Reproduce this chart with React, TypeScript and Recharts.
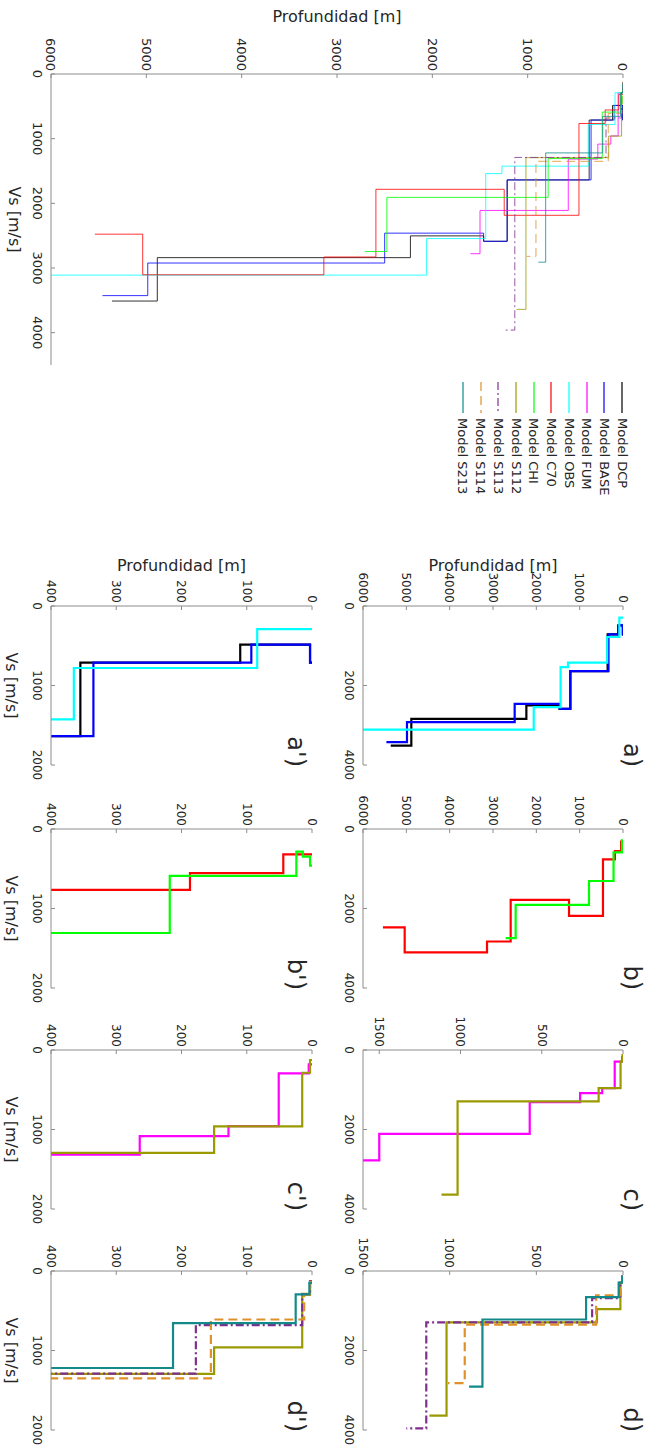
import { LineChart, Line, XAxis, YAxis } from 'recharts'

// legend order
const models = ['DCP', 'BASE', 'FUM', 'OBS', 'C70', 'CHI', 'S112', 'S113', 'S114', 'S213']
const colors = ['#000000', '#0000ff', '#ff00ff', '#00ffff', '#ff0000', '#00ff00', '#9a9a00', '#7e2f8e', '#e0902a', '#128a8a']
const dashes = ['', '', '', '', '', '', '', '8 3 2 3', '9 5', '']

// Vs of each layer [m/s]; depth = layer boundaries [m], last value is where the curve stops
const dcpVs = [712, 486, 712, 1638, 2587, 2503, 2840, 3511]
const dcpDepth = [0, 3, 110, 355, 1215, 1462, 2230, 4885, 5360]
const baseVs = [712, 486, 712, 1638, 2587, 2461, 2923, 3427]
const baseDepth = [0, 3, 93, 335, 1215, 1462, 2500, 4985, 5460]
const fumVs = [180, 294, 958, 1084, 1315, 2110, 2779]
const fumDepth = [0, 5, 51, 128, 264, 574, 1500, 1600]
const obsVs = [290, 780, 1425, 1540, 2545, 3110]
const obsDepth = [0, 84, 365, 1270, 1440, 2060, 6400]
const c70Vs = [318, 556, 765, 2185, 1783, 2830, 3105, 2477]
const c70Depth = [0, 44, 187, 462, 1246, 2592, 3138, 5038, 5540]
const chiVs = [460, 347, 284, 589, 1308, 1908, 2745]
const chiDepth = [0, 3, 14, 24, 218, 785, 2477, 2708]
const s112Vs = [126, 286, 960, 1294, 3640]
const s112Depth = [0, 3, 15, 150, 1018, 1117]
const s113Vs = [130, 290, 680, 1290, 3960]
const s113Depth = [0, 3, 15, 178, 1135, 1250]
const s114Vs = [140, 300, 610, 1350, 2820]
const s114Depth = [0, 3, 12, 155, 913, 1010]
const s213Vs = [150, 294, 655, 1220, 2910]
const s213Depth = [0, 4, 25, 213, 811, 888]

// tick labels
const mainVsTicks = [0, 1000, 2000, 3000, 4000]
const panelVsTicks = [0, 2000, 4000]
const zoomVsTicks = [0, 1000, 2000]
const deepTicks = [0, 1000, 2000, 3000, 4000, 5000, 6000]
const midTicks = [0, 500, 1000, 1500]
const shallowTicks = [0, 100, 200, 300, 400]

const profiles: Record<string, { vs: number[]; depth: number[] }> = {
  DCP: { vs: dcpVs, depth: dcpDepth },
  BASE: { vs: baseVs, depth: baseDepth },
  FUM: { vs: fumVs, depth: fumDepth },
  OBS: { vs: obsVs, depth: obsDepth },
  C70: { vs: c70Vs, depth: c70Depth },
  CHI: { vs: chiVs, depth: chiDepth },
  S112: { vs: s112Vs, depth: s112Depth },
  S113: { vs: s113Vs, depth: s113Depth },
  S114: { vs: s114Vs, depth: s114Depth },
  S213: { vs: s213Vs, depth: s213Depth },
}

// staircase: each layer is a constant-Vs segment from its top to its bottom
const steps = (name: string) => {
  const { vs, depth } = profiles[name]
  const pts: { vs: number; depth: number }[] = []
  vs.forEach((v, i) => {
    pts.push({ vs: v, depth: depth[i] })
    pts.push({ vs: v, depth: depth[i + 1] })
  })
  return pts
}

const FONT = '"DejaVu Sans", sans-serif'
const TEXT = '#262626'
const AXIS = '#8c8c8c'
const PAD_L = 74, PAD_T = 10, PAD_R = 30, PAD_B = 50

interface PanelProps {
  x: number; y: number; w: number; h: number
  vsMax: number; depthMax: number
  vsTicks: number[]; depthTicks: number[]
  names: string[]
  thick?: boolean
  fontSize?: number
  xLabelOffset?: number
  yLabelOffset?: number
}

const Panel = ({ x, y, w, h, vsMax, depthMax, vsTicks, depthTicks, names, thick, fontSize = 12, xLabelOffset, yLabelOffset }: PanelProps) => (
  <div style={{ position: 'absolute', left: x - PAD_L, top: y - PAD_T }}>
    <LineChart
      width={w + PAD_L + PAD_R}
      height={h + PAD_T + PAD_B}
      margin={{ top: PAD_T, right: PAD_R, bottom: 0, left: 0 }}
    >
      <XAxis
        type="number"
        dataKey="vs"
        domain={[0, vsMax]}
        ticks={vsTicks}
        interval={0}
        allowDataOverflow
        height={PAD_B}
        stroke={AXIS}
        tickSize={-4}
        tickMargin={13}
        tick={{ fontSize, fill: TEXT }}
        label={xLabelOffset !== undefined
          ? { value: 'Vs [m/s]', position: 'insideBottom', offset: xLabelOffset, style: { fontSize: 16, fill: TEXT } }
          : undefined}
      />
      <YAxis
        type="number"
        domain={[0, depthMax]}
        ticks={depthTicks}
        interval={0}
        reversed
        allowDataOverflow
        width={PAD_L}
        stroke={AXIS}
        tickSize={-4}
        tickMargin={7}
        tick={{ fontSize, fill: TEXT }}
        label={yLabelOffset !== undefined
          ? { value: 'Profundidad [m]', angle: -90, position: 'insideLeft', offset: yLabelOffset, style: { textAnchor: 'middle', fontSize: 16, fill: TEXT } }
          : undefined}
      />
      {names.map(n => {
        const i = models.indexOf(n)
        return (
          <Line
            key={n}
            data={steps(n)}
            dataKey="depth"
            type="linear"
            stroke={colors[i]}
            strokeWidth={thick ? 2.2 : 1}
            strokeOpacity={thick ? 1 : 0.8}
            strokeDasharray={dashes[i] || undefined}
            dot={false}
            isAnimationActive={false}
          />
        )
      })}
    </LineChart>
  </div>
)

const Tag = ({ right, top, text }: { right: number; top: number; text: string }) => (
  <div style={{
    position: 'absolute', left: right - 60, top, width: 60, textAlign: 'right',
    fontSize: 24, lineHeight: '24px', color: TEXT,
  }}>{text}</div>
)

const Legend = () => (
  <div style={{ position: 'absolute', left: 382, top: 24 }}>
    {models.map((m, i) => (
      <div key={m} style={{ display: 'flex', alignItems: 'center', height: 17.7, fontSize: 13, color: TEXT }}>
        <svg width={31} height={4} style={{ marginRight: 5 }}>
          <line x1={0} y1={2} x2={31} y2={2} stroke={colors[i]} strokeWidth={1.2} strokeDasharray={dashes[i] || undefined} />
        </svg>
        <span>Model {m}</span>
      </div>
    ))}
  </div>
)

// rows of the small panels (Vs axis start, original orientation)
const rows = [
  { x: 606, tag: 'a', names: ['DCP', 'BASE', 'OBS'], depthMax: 6000, ticks: deepTicks },
  { x: 829, tag: 'b', names: ['C70', 'CHI'], depthMax: 6000, ticks: deepTicks },
  { x: 1050, tag: 'c', names: ['FUM', 'S112'], depthMax: 1600, ticks: midTicks },
  { x: 1271, tag: 'd', names: ['S112', 'S113', 'S114', 'S213'], depthMax: 1500, ticks: midTicks },
]

const App = () => (
  <div style={{ position: 'absolute', left: 0, top: 0, width: 655, height: 1453, overflow: 'hidden', background: '#fff' }}>
    <div style={{
      position: 'absolute', left: 0, top: 0, width: 1453, height: 655,
      transformOrigin: '0 0', transform: 'translate(655px, 0) rotate(90deg)',
      fontFamily: FONT,
    }}>
      <Panel
        x={74} y={32} w={291} h={572}
        vsMax={4500} depthMax={6000}
        vsTicks={mainVsTicks} depthTicks={deepTicks}
        names={models} fontSize={13}
        xLabelOffset={8} yLabelOffset={16}
      />
      <Legend />
      {rows.map((r, k) => (
        <div key={r.tag}>
          <Panel
            x={r.x} y={32} w={159} h={260}
            vsMax={4000} depthMax={r.depthMax}
            vsTicks={panelVsTicks} depthTicks={r.ticks}
            names={r.names} thick
            yLabelOffset={k === 0 ? 33 : undefined}
          />
          <Panel
            x={r.x} y={343} w={159} h={261}
            vsMax={2000} depthMax={400}
            vsTicks={zoomVsTicks} depthTicks={shallowTicks}
            names={r.names} thick
            xLabelOffset={5}
            yLabelOffset={k === 0 ? 33 : undefined}
          />
          <Tag right={r.x + 161} top={11} text={`${r.tag})`} />
          <Tag right={r.x + 161} top={347} text={`${r.tag}')`} />
        </div>
      ))}
    </div>
  </div>
)

export default App
